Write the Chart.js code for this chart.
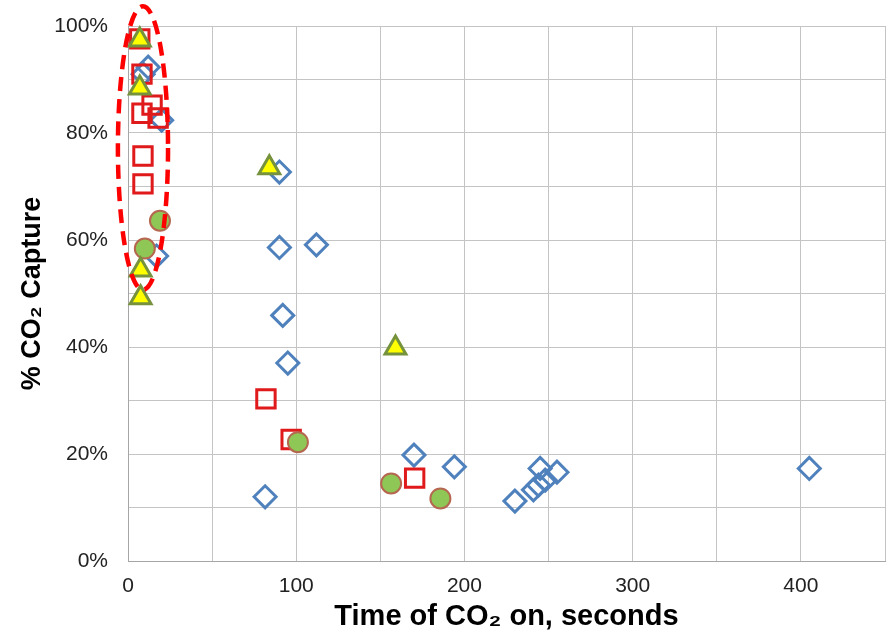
<!DOCTYPE html>
<html>
<head>
<meta charset="utf-8">
<script src="https://cdn.jsdelivr.net/npm/chart.js@4.4.1/dist/chart.umd.min.js"></script>
<style>
  html, body { margin: 0; padding: 0; background: #fff; }
  #wrap { width: 888px; height: 634px; }
</style>
</head>
<body>
<div id="wrap"><canvas id="captureChart" width="888" height="634"></canvas></div>
<script>
// Data: [seconds, % capture]
const diamondX = [12, 9, 20, 17, 90, 90, 112, 92, 95, 81.5, 170, 194, 230, 241, 244, 248, 245, 255, 405];
const diamondY = [92.3, 91, 82.4, 57, 72.7, 58.6, 59.1, 45.9, 37, 12, 19.8, 17.6, 11.2, 13.3, 14.2, 15.1, 17.3, 16.6, 17.3];

const squareX = [7, 8.3, 14.3, 8.3, 17.9, 8.9, 8.9, 82, 97, 170.4];
const squareY = [97.6, 91, 85.2, 83.7, 82.8, 75.7, 70.5, 30.3, 22.7, 15.5];

const circleX = [19, 10, 101, 156.4, 185.7];
const circleY = [63.6, 58.4, 22.2, 14.5, 11.7];

const triangleX = [7, 7, 7.5, 7.5, 84, 159];
const triangleY = [97.4, 88.4, 54.4, 49.2, 73.5, 39.8];

// Dashed ellipse round the short-time points (data units)
const highlight = { x: 8.9, y: 77.2, rx: 14.9, ry: 26.5 };

const toPoints = (xs, ys) => xs.map((x, i) => ({ x: x, y: ys[i] }));

const ellipsePlugin = {
    id: 'highlightEllipse',
    afterDatasetsDraw(chart) {
        const { ctx, scales: { x, y } } = chart;
        const cx = x.getPixelForValue(highlight.x);
        const cy = y.getPixelForValue(highlight.y);
        const rx = Math.abs(x.getPixelForValue(highlight.x + highlight.rx) - cx);
        const ry = Math.abs(y.getPixelForValue(highlight.y + highlight.ry) - cy);
        ctx.save();
        ctx.strokeStyle = '#FF0000';
        ctx.lineWidth = 4.5;
        ctx.setLineDash([14, 8]);
        ctx.beginPath();
        ctx.ellipse(cx, cy, rx, ry, 0, 0, Math.PI * 2);
        ctx.stroke();
        ctx.restore();
    }
};

const ctx = document.getElementById('captureChart').getContext('2d');
new Chart(ctx, {
    type: 'scatter',
    data: {
        datasets: [
            {
                label: 'Triangles',
                data: toPoints(triangleX, triangleY),
                pointStyle: 'triangle',
                pointRadius: 12,
                backgroundColor: '#FFFF00',
                borderColor: '#76923C',
                borderWidth: 3,
                clip: false
            },
            {
                label: 'Circles',
                data: toPoints(circleX, circleY),
                pointStyle: 'circle',
                pointRadius: 10,
                backgroundColor: '#8FC756',
                borderColor: '#B5674F',
                borderWidth: 2,
                clip: false
            },
            {
                label: 'Squares',
                data: toPoints(squareX, squareY),
                pointStyle: 'rect',
                pointRadius: 13,
                backgroundColor: 'transparent',
                borderColor: '#E0191B',
                borderWidth: 3,
                clip: false
            },
            {
                label: 'Diamonds',
                data: toPoints(diamondX, diamondY),
                pointStyle: 'rectRot',
                pointRadius: 11,
                backgroundColor: 'transparent',
                borderColor: '#4F81BD',
                borderWidth: 3,
                clip: false
            }
        ]
    },
    options: {
        responsive: false,
        animation: false,
        layout: { autoPadding: false, padding: { top: 26, right: 3, left: 0, bottom: 0 } },
        plugins: {
            legend: { display: false },
            tooltip: { enabled: false }
        },
        scales: {
            x: {
                type: 'linear',
                min: 0,
                max: 450,
                afterFit: (scale) => { scale.height = 73; scale.paddingRight = 0; },
                grid: { color: '#C4C4C4', drawTicks: false },
                border: { color: '#A6A6A6' },
                ticks: {
                    stepSize: 50,
                    padding: 13,
                    color: '#222',
                    font: { family: 'Liberation Sans, Arial', size: 21 },
                    maxRotation: 0,
                    callback: (v) => (v % 100 === 0 ? String(v) : '')
                },
                title: {
                    display: true,
                    text: 'Time of CO₂ on, seconds',
                    color: '#000',
                    font: { family: 'Liberation Sans, Arial', size: 29, weight: 'bold' },
                    padding: { top: 0, bottom: 0 }
                }
            },
            y: {
                min: 0,
                max: 100,
                afterFit: (scale) => { scale.width = 128; scale.paddingTop = 0; },
                grid: { color: '#C4C4C4', drawTicks: false },
                border: { color: '#A6A6A6' },
                ticks: {
                    stepSize: 10,
                    padding: 20,
                    color: '#222',
                    font: { family: 'Liberation Sans, Arial', size: 21 },
                    callback: (v) => (v % 20 === 0 ? v + '%' : '')
                },
                title: {
                    display: true,
                    text: '% CO₂ Capture',
                    color: '#000',
                    font: { family: 'Liberation Sans, Arial', size: 27, weight: 'bold' },
                    padding: { top: 16, bottom: 0 }
                }
            }
        }
    },
    plugins: [ellipsePlugin]
});
</script>
</body>
</html>
